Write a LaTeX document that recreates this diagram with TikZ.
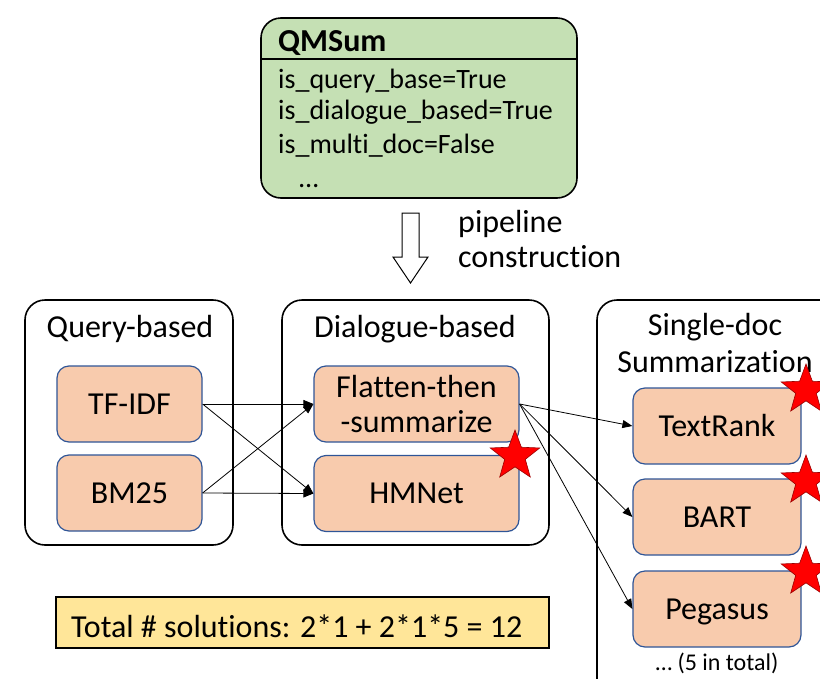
\documentclass[tikz,border=0pt]{standalone}
\usepackage{fontspec}
\setmainfont{Carlito}[Ligatures=NoCommon]
\usetikzlibrary{arrows.meta,shapes.geometric}
\definecolor{qgreen}{HTML}{C5E0B4}
\definecolor{mpeach}{HTML}{F8CBAD}
\definecolor{mblue}{HTML}{2F5597}
\definecolor{tyellow}{HTML}{FFE699}
\tikzset{
  groupbox/.style={draw=black, line width=1.6pt, rounded corners=20pt},
  methodbase/.style={draw=mblue, line width=1.2pt, fill=mpeach, rounded corners=12pt,
     minimum width=145pt, minimum height=76pt, inner sep=0pt, align=center,
     font=\fontsize{32}{35}\selectfont},
  method/.style={methodbase, text height=20pt, text depth=0pt},
  methodw/.style={method, minimum width=168pt},
  methodd/.style={method, minimum width=205pt},
  big/.style={font=\fontsize{32}{35}\selectfont, inner sep=0pt},
  mid/.style={font=\fontsize{28}{33}\selectfont, inner sep=0pt},
  small/.style={font=\fontsize{24}{28}\selectfont, inner sep=0pt},
  conn/.style={draw=black, line width=0.8pt, -{Triangle[length=10pt,width=8pt]}},
  redstar/.style={star, star points=5, star point ratio=2.4, minimum size=52pt,
     inner sep=0pt, fill=red, draw=red!60!black, line width=0.6pt},
}
\begin{document}
\begin{tikzpicture}[x=1pt, y=-1pt]
\useasboundingbox (0,0) rectangle (820,678);
\clip (0,0) rectangle (820,678);
% QMSum box
\draw[groupbox, fill=qgreen] (261,18) rectangle (577,198);
\coordinate (hl) at (261,59);
\coordinate (hr) at (577,59);
\draw[line width=1.2pt] (hl) -- (hr);
\node[anchor=base west, inner sep=0pt, font=\fontsize{32}{35}\selectfont\bfseries] (qtitle) at (278,51) {QMSum};
\node[mid, anchor=base west] (q1) at (278,88) {is\_query\_base=True};
\node[mid, anchor=base west] (q2) at (278,119) {is\_dialogue\_based=True};
\node[mid, anchor=base west] (q3) at (278,153) {is\_multi\_doc=False};
\node[mid, anchor=base west] (q4) at (299,187) {…};
% hollow arrow
\draw[line width=1pt, fill=white] (402,213) -- (419,213) -- (419,257) -- (428,257) -- (410.5,283) -- (393,257) -- (402,257) -- cycle;
\node[big, anchor=base west] (pl1) at (458,232) {pipeline};
\node[big, anchor=base west] (pl2) at (458,267) {construction};
% group boxes
\draw[groupbox] (25,300) rectangle (233,545);
\node[big, anchor=base] (gq) at (130,337) {Query-based};
\draw[groupbox] (282,300) rectangle (549,545);
\node[big, anchor=base] (gd) at (415,337) {Dialogue-based};
\draw[groupbox] (597,300) rectangle (850,720);
\node[big, anchor=base] (gs1) at (715,335) {Single-doc};
\node[big, anchor=base] (gs2) at (715,372) {Summarization};
% method boxes
\node[method] (tfidf) at (129.5,404) {TF-IDF};
\node[method] (bm25) at (129.5,493) {BM25};
\node[methodbase, minimum width=205pt] (flat) at (416.5,404) {Flatten-then\\-summarize};
\node[methodd] (hmnet) at (416.5,493.5) {HMNet};
\node[methodw] (textrank) at (717,426) {TextRank};
\node[methodw] (bart) at (717,517) {BART};
\node[methodw] (pegasus) at (717,609) {Pegasus};
\node[small, anchor=base] (more) at (717,670) {… (5 in total)};
% stars
\node[redstar] (s1) at (515,456) {};
\node[redstar] (s2) at (806,390) {};
\node[redstar] (s3) at (806,481) {};
\node[redstar] (s4) at (806,572) {};
% connectors
\draw[conn] (tfidf.east) -- (flat.west);
\draw[conn] (tfidf.east) -- (hmnet.west);
\draw[conn] (bm25.east) -- (flat.west);
\draw[conn] (bm25.east) -- (hmnet.west);
\draw[conn] (flat.east) -- (textrank.west);
\draw[conn] (flat.east) -- (bart.west);
\draw[conn] (flat.east) -- (pegasus.west);
% total box
\draw[line width=1.2pt, fill=tyellow] (56,597) rectangle (549,648);
\node[big, anchor=base west] (total) at (71,637) {Total \# solutions: 2*1 + 2*1*5 = 12};
\end{tikzpicture}
\end{document}
